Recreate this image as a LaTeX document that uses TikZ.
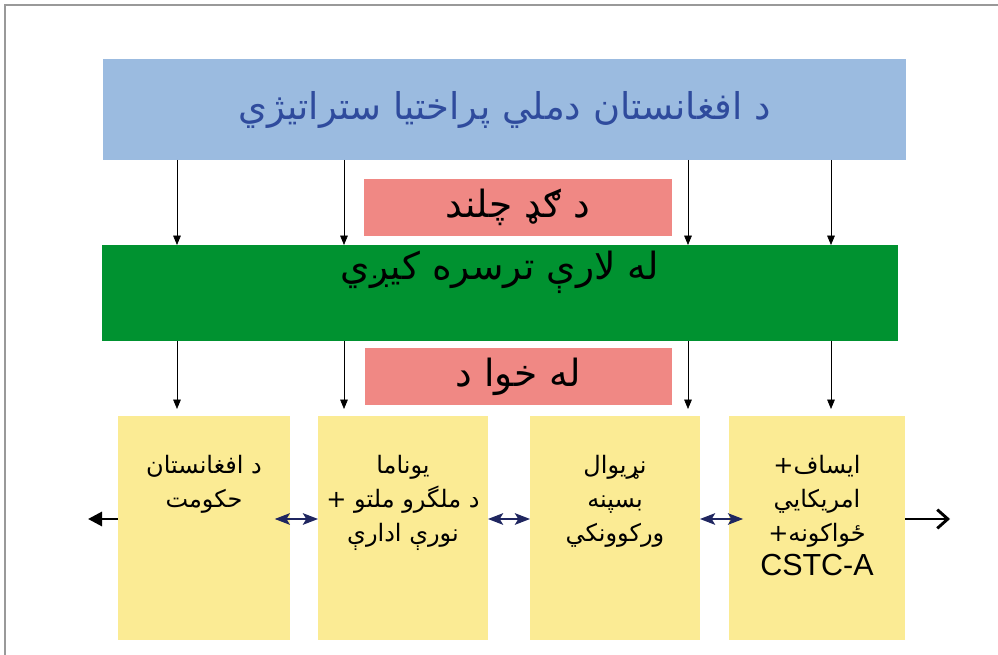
\documentclass[tikz,border=0pt]{standalone}
\usepackage{fontspec}
\setmainfont{Liberation Sans}
\newfontfamily\pashto[Script=Arabic]{DejaVu Sans}
\TeXXeTstate=1
\usetikzlibrary{positioning}
\usetikzlibrary{arrows.meta}
\definecolor{skyback}{RGB}{155,187,224}
\definecolor{headblue}{RGB}{47,75,157}
\definecolor{salmonback}{RGB}{240,136,132}
\definecolor{leafback}{RGB}{0,146,48}
\definecolor{sandback}{RGB}{251,235,148}
\definecolor{inkblue}{RGB}{31,38,96}
\newcommand{\rtl}[1]{{\pashto\beginR #1\endR}}

\begin{document}
\begin{tikzpicture}[x=0.03cm, y=-0.03cm,
    panel/.style={inner sep=0pt, outer sep=0pt},
    column/.style={panel, fill=sandback, minimum height=6.72cm},
    coltext/.style={align=center, font=\fontsize{20.5}{29}\selectfont},
    bigtext/.style={font=\fontsize{32}{36}\selectfont},
    dropline/.style={black, line width=0.6pt, -{Triangle[length=8pt, width=6.5pt]}},
    link/.style={inkblue, line width=1pt, {Stealth[length=13pt, width=10pt, inset=3pt]}-{Stealth[length=13pt, width=10pt, inset=3pt]}}]
    \useasboundingbox (0,0) rectangle (998,655);
    \draw[gray!80, line width=1.5pt] (5,655)--(5,5)--(998,5);
    \node[panel, fill=skyback, minimum width=24.09cm, minimum height=3.03cm, text=headblue, font=\fontsize{31.5}{36}\selectfont] (strategy) at (504.5,109.5) {\rtl{د افغانستان دملي پراختيا ستراتيژي}};
    \node[panel, bigtext, fill=salmonback, minimum width=9.24cm, minimum height=1.71cm] (joint) at (518,207.5) {\rtl{د ګډ چلند}};
    \node[panel, fill=leafback, minimum width=23.88cm, minimum height=2.88cm] (lane) at (500,293) {};
    \node[bigtext, below=2pt of lane.north] (lanetext) {\rtl{له لارې ترسره کيږي}};
    \node[panel, bigtext, fill=salmonback, minimum width=9.21cm, minimum height=1.71cm] (behalf) at (518.5,376.5) {\rtl{له خوا د}};
    \node[column, minimum width=5.16cm] (gov) at (204,528) {};
    \node[column, minimum width=5.1cm] (unama) at (403,528) {};
    \node[column, minimum width=5.1cm] (donors) at (615,528) {};
    \node[column, minimum width=5.28cm] (isaf) at (817,528) {};
    \node[coltext, below=30pt of gov.north] (govtext) {\rtl{د افغانستان}\\ \rtl{حکومت}};
    \node[coltext, below=30pt of unama.north] (unamatext) {\rtl{يوناما}\\ \rtl{د ملگرو ملتو +}\\ \rtl{نورې ادارې}};
    \node[coltext, below=30pt of donors.north] (donorstext) {\rtl{نړيوال}\\ \rtl{بسپنه}\\ \rtl{ورکوونکي}};
    \node[coltext, below=30pt of isaf.north] (isaftext) {\rtl{ايساف+}\\ \rtl{امريکايي}\\ \rtl{ځواکونه+}\\ {\fontsize{26}{29}\selectfont CSTC-A}};
    \foreach \k [count=\i] in {177,344,688,831}
        \coordinate (drop\i) at (\k,0);
    \foreach \i/\b in {1/gov, 2/unama, 3/donors, 4/isaf} {
        \draw[dropline] (strategy.south -| drop\i)--(lane.north -| drop\i);
        \draw[dropline, shorten >=6pt] (lane.south -| drop\i)--(\b.north -| drop\i);
    }
    \coordinate (rowy) at (0,519);
    \coordinate (outleft) at (88,519);
    \coordinate (outright) at (950,519);
    \draw[link, shorten <=-13pt] (gov.east |- rowy)--(unama.west |- rowy);
    \draw[link] (unama.east |- rowy)--(donors.west |- rowy);
    \draw[link, shorten >=-12pt] (donors.east |- rowy)--(isaf.west |- rowy);
    \draw[black, line width=2.5pt, -{Triangle[length=12pt, width=12pt]}] (gov.west |- rowy)--(outleft);
    \draw[black, line width=2.5pt, -{Straight Barb[length=9pt, width=16pt]}] (isaf.east |- rowy)--(outright);
\end{tikzpicture}
\end{document}
